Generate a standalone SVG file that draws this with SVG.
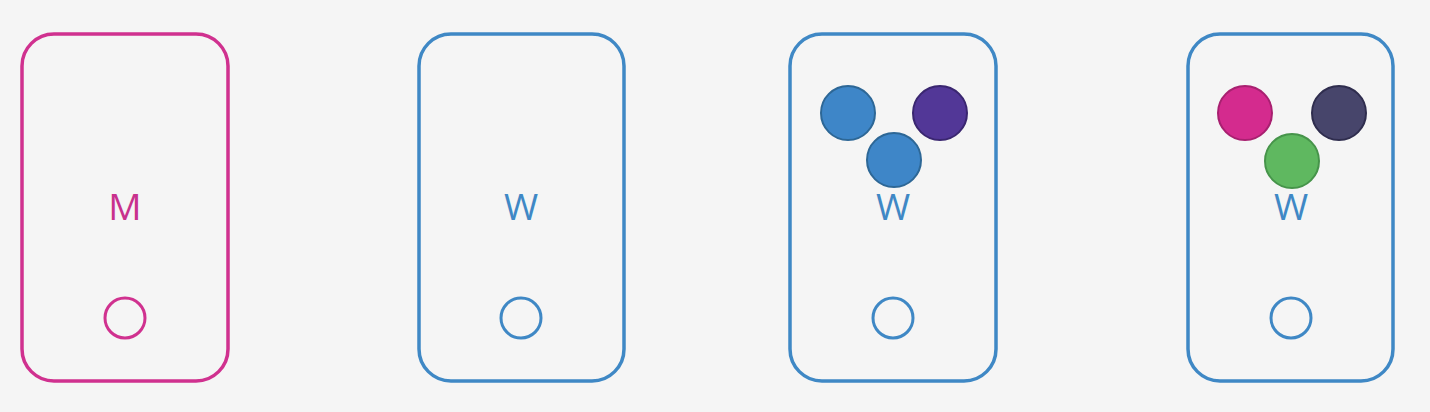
<svg xmlns="http://www.w3.org/2000/svg" width="1430" height="412" viewBox="0 0 1430 412">
<style>
.box{fill:none;stroke-width:3.5}
.m{stroke:#d0318f}
.w{stroke:#3f88c5}
.port{fill:none;stroke-width:3}
.lbl{font-family:"Open Sans","Liberation Sans",sans-serif;font-size:37px;text-anchor:middle}
.pod{stroke-width:2}
</style>
<rect width="1430" height="412" fill="#f5f5f5"/>
<g id="master">
<rect class="box m" x="22" y="34" width="206" height="347" rx="32"/>
<text class="lbl" x="125" y="220" fill="#c8318d">M</text>
<circle class="port m" cx="125" cy="318" r="20"/>
</g>
<g id="worker1">
<rect class="box w" x="419" y="34" width="205" height="347" rx="32"/>
<text class="lbl" x="521" y="220" fill="#3f88c5">W</text>
<circle class="port w" cx="521" cy="318" r="20"/>
</g>
<g id="worker2">
<rect class="box w" x="790" y="34" width="206" height="347" rx="32"/>
<circle class="pod" cx="848" cy="113" r="27" fill="#3e86c8" stroke="#2d6796"/>
<circle class="pod" cx="940" cy="113" r="27" fill="#523797" stroke="#3a2670"/>
<circle class="pod" cx="894" cy="160" r="27" fill="#3e86c8" stroke="#2d6796"/>
<text class="lbl" x="893" y="220" fill="#3f88c5">W</text>
<circle class="port w" cx="893" cy="318" r="20"/>
</g>
<g id="worker3">
<rect class="box w" x="1188" y="34" width="205" height="347" rx="32"/>
<circle class="pod" cx="1245" cy="113" r="27" fill="#d42b8e" stroke="#a82070"/>
<circle class="pod" cx="1339" cy="113" r="27" fill="#47456b" stroke="#2f2d4e"/>
<circle class="pod" cx="1292" cy="161" r="27" fill="#5fb860" stroke="#46944a"/>
<text class="lbl" x="1291" y="220" fill="#3f88c5">W</text>
<circle class="port w" cx="1291" cy="318" r="20"/>
</g>
<g id="connectors"/>
</svg>
